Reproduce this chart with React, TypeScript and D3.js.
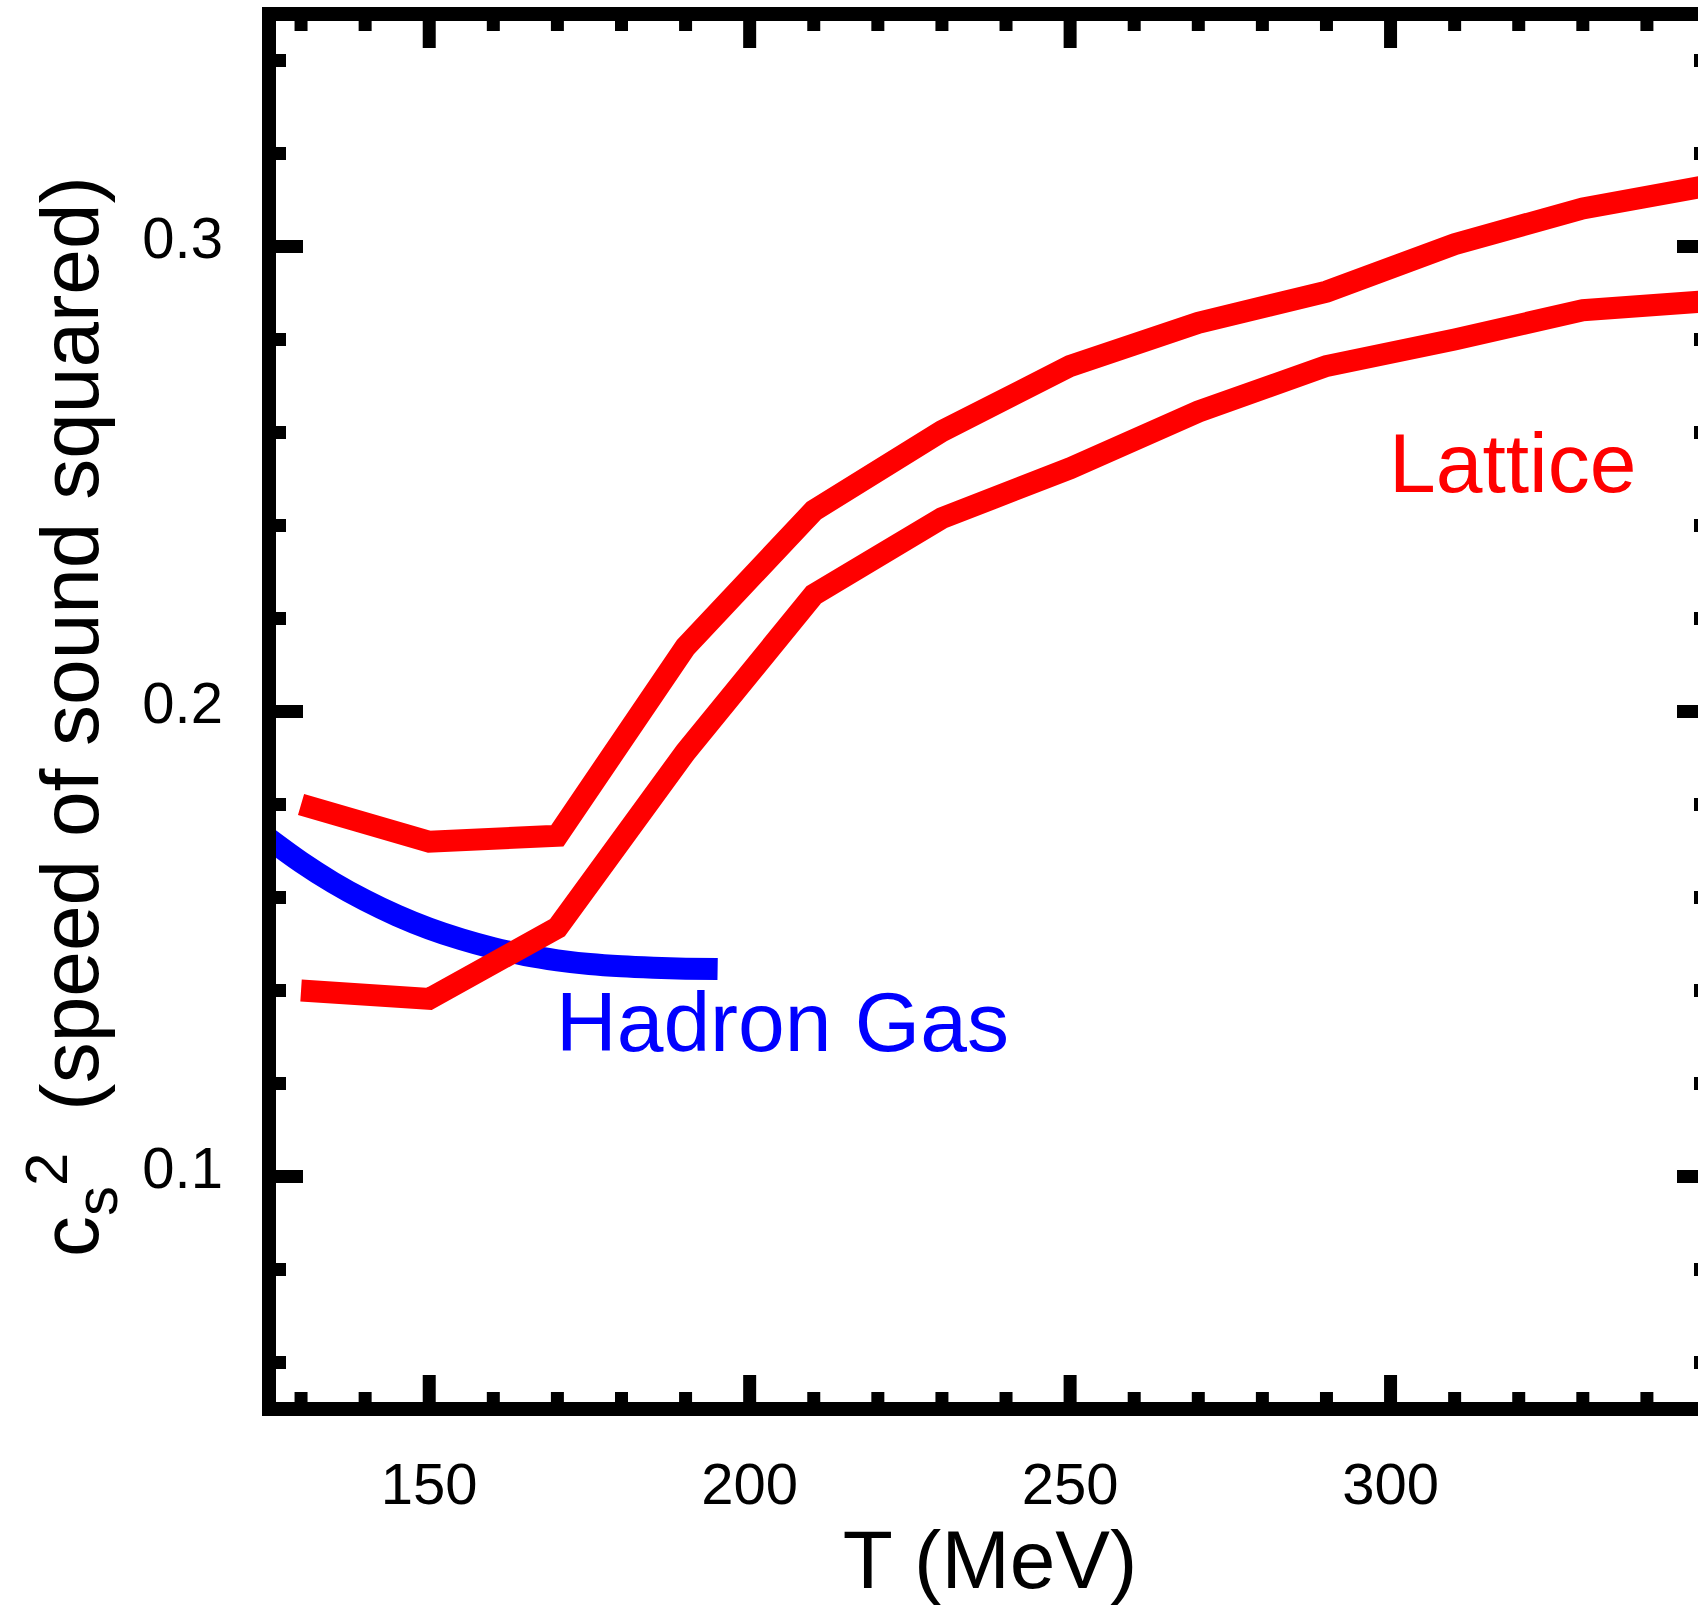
import React from "react";
import * as d3 from "d3";

// Lattice band edges, sampled every 20 MeV
const latticeT = [130, 150, 170, 190, 210, 230, 250, 270, 290, 310, 330, 350];
const latticeUpper = [0.18, 0.172, 0.1733, 0.2139, 0.2432, 0.2603, 0.2743, 0.2836, 0.2903, 0.3005, 0.3082, 0.3132];
const latticeLower = [0.14, 0.1382, 0.1535, 0.1913, 0.2251, 0.2416, 0.2523, 0.2645, 0.2743, 0.28, 0.2863, 0.2883];

// Hadron gas curve
const hadronT = [125, 130, 135, 140, 145, 150, 155, 160, 165, 170, 175, 180, 185, 190, 195];
const hadronCs2 = [0.1726, 0.1676, 0.1632, 0.1594, 0.1561, 0.1533, 0.151, 0.1491, 0.1476, 0.1465, 0.1457, 0.1452, 0.1449, 0.1447, 0.1446];

const xTickLabels = [150, 200, 250, 300];
const yTickLabels = [0.1, 0.2, 0.3];

const width = 1698;
const height = 1605;
const font = "'Liberation Sans', Arial, Helvetica, sans-serif";

const App = () => {
  const x = d3.scaleLinear().domain([125, 350]).range([269, 1711]);
  const y = d3.scaleLinear().domain([0.05, 0.35]).range([1409, 14]);

  const line = d3
    .line<[number, number]>()
    .x((d) => x(d[0]))
    .y((d) => y(d[1]));

  const upper = line(latticeT.map((t, i) => [t, latticeUpper[i]]));
  const lower = line(latticeT.map((t, i) => [t, latticeLower[i]]));
  const hadron = d3
    .line<[number, number]>()
    .x((d) => x(d[0]))
    .y((d) => y(d[1]))
    .curve(d3.curveMonotoneX)(hadronT.map((t, i) => [t, hadronCs2[i]]));

  const [x0, x1] = x.range();
  const [y0, y1] = y.range();
  const frameW = 14;
  const inset = frameW / 2;
  const majorLen = 27;
  const minorLen = 10;
  const tickW = 13;
  const lineW = 22;

  const xMinor = d3.range(130, 351, 10).filter((t) => t % 50 !== 0);
  const xMajor = d3.range(150, 351, 50);
  const yMinor = d3
    .range(0.06, 0.35, 0.02)
    .map((v) => +v.toFixed(2))
    .filter((v) => Math.round(v * 100) % 10 !== 0);
  const yMajor = [0.1, 0.2, 0.3];

  return (
    <svg
      width={width}
      height={height}
      style={{ position: "absolute", left: 0, top: 0, background: "#fff" }}
      fontFamily={font}
    >
      <rect width={width} height={height} fill="#fff" />

      {/* curves */}
      <path d={hadron || ""} fill="none" stroke="#0000ff" strokeWidth={lineW} strokeLinecap="butt" />
      <path d={lower || ""} fill="none" stroke="#ff0000" strokeWidth={lineW} strokeLinejoin="miter" strokeLinecap="butt" />
      <path d={upper || ""} fill="none" stroke="#ff0000" strokeWidth={lineW} strokeLinejoin="miter" strokeLinecap="butt" />

      {/* ticks on all four sides */}
      <g stroke="#000" strokeWidth={tickW}>
        {xMinor.map((t) => (
          <g key={"xm" + t}>
            <line x1={x(t)} x2={x(t)} y1={y0 - inset} y2={y0 - inset - minorLen} />
            <line x1={x(t)} x2={x(t)} y1={y1 + inset} y2={y1 + inset + minorLen} />
          </g>
        ))}
        {xMajor.map((t) => (
          <g key={"xM" + t}>
            <line x1={x(t)} x2={x(t)} y1={y0 - inset} y2={y0 - inset - majorLen} />
            <line x1={x(t)} x2={x(t)} y1={y1 + inset} y2={y1 + inset + majorLen} />
          </g>
        ))}
        {yMinor.map((v) => (
          <g key={"ym" + v}>
            <line y1={y(v)} y2={y(v)} x1={x0 + inset} x2={x0 + inset + minorLen} />
            <line y1={y(v)} y2={y(v)} x1={x1 - inset} x2={x1 - inset - minorLen} />
          </g>
        ))}
        {yMajor.map((v) => (
          <g key={"yM" + v}>
            <line y1={y(v)} y2={y(v)} x1={x0 + inset} x2={x0 + inset + majorLen} />
            <line y1={y(v)} y2={y(v)} x1={x1 - inset} x2={x1 - inset - majorLen} />
          </g>
        ))}
      </g>

      {/* frame */}
      <rect
        x={x0}
        y={y1}
        width={x1 - x0}
        height={y0 - y1}
        fill="none"
        stroke="#000"
        strokeWidth={frameW}
      />

      {/* tick labels */}
      {xTickLabels.map((t) => (
        <text key={"xl" + t} x={x(t)} y={1504} fontSize={58} textAnchor="middle" fill="#000">
          {t}
        </text>
      ))}
      {yTickLabels.map((v) => (
        <text key={"yl" + v} x={223} y={y(v) + 11} fontSize={58} textAnchor="end" fill="#000">
          {v.toFixed(1)}
        </text>
      ))}

      {/* axis titles */}
      <text x={(x0 + x1) / 2} y={1588} fontSize={82} textAnchor="middle" fill="#000">
        T (MeV)
      </text>
      <text transform="translate(98,1257) rotate(-90)" fontSize={82} fill="#000">
        c
        <tspan fontSize={60} dy={19}>s</tspan>
        <tspan fontSize={60} dy={-50}>2</tspan>
        <tspan dy={31} dx={42}>(speed of sound squared)</tspan>
      </text>

      {/* series labels */}
      <text x={1389} y={492} fontSize={84} fill="#ff0000">
        Lattice
      </text>
      <text x={556} y={1051} fontSize={84} fill="#0000ff">
        Hadron Gas
      </text>
    </svg>
  );
};

export default App;
